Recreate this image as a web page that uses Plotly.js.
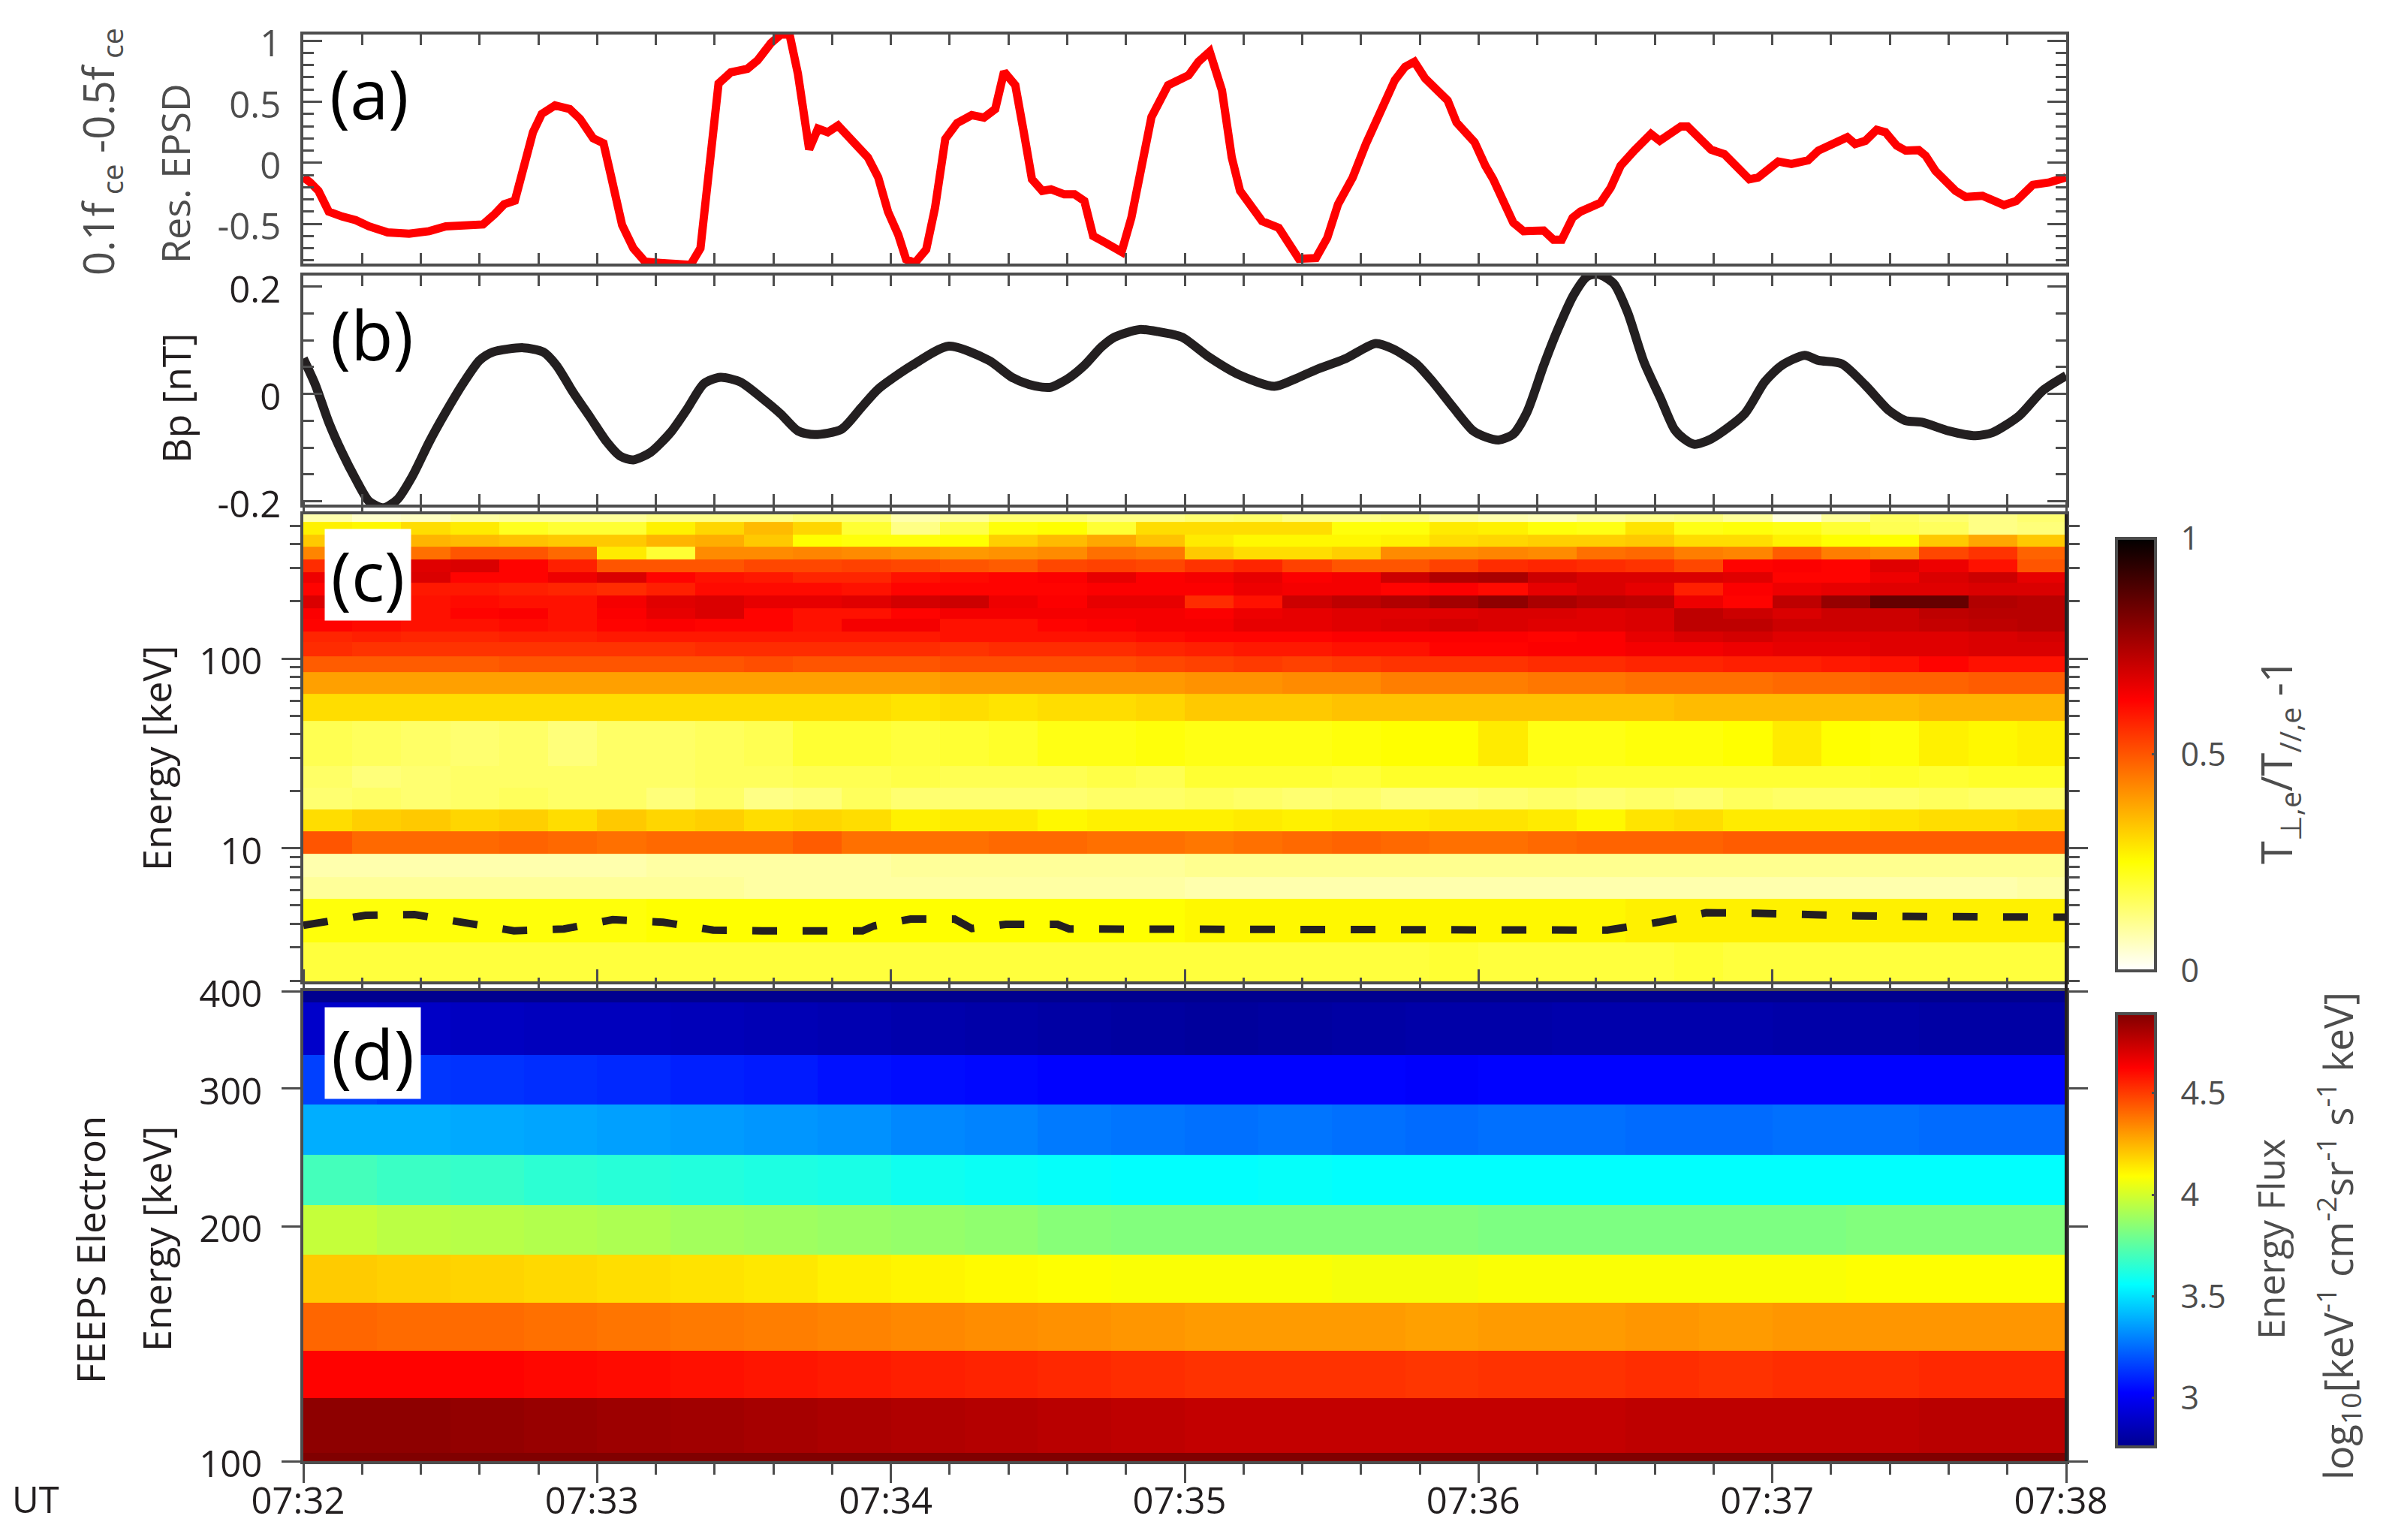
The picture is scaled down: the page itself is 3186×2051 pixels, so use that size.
<!DOCTYPE html>
<html>
<head>
<meta charset="utf-8">
<script src="https://cdn.plot.ly/plotly-3.0.1.min.js"></script>
<style>html,body{margin:0;padding:0;background:#fff}</style>
</head>
<body>
<div id="chart" style="width:3186px;height:2051px"></div>
<script>
// ---------- DATA ----------
const minuteTicks = [0, 60, 120, 180, 240, 300, 360];
const minuteLabels = ['07:32', '07:33', '07:34', '07:35', '07:36', '07:37', '07:38'];

// panel (a): seconds after 07:32, residual EPSD
const epsdTime = [0,1.4,3.1,5.2,7.9,10.7,13.4,17.2,21.6,25.7,29.1,33.2,36.7,39.1,41,43.2,44.9,46.9,48.7,51.4,54.4,56.5,59.2,61.3,62.9,65.1,67.4,69.8,72.9,79.1,81.1,82.5,84.8,87.3,90.7,92.8,95.5,97.5,99.3,101,102.1,103.3,105.1,107.1,109.2,111.2,113.3,115.3,117.4,119.4,121.5,123.1,124.9,127.2,129,131.1,133.5,136.5,139,141.3,143.1,145.4,147.2,148.8,150.9,152.7,155.4,157.5,159.5,161.3,163.6,167.1,169.1,171.2,173.2,176.6,180.8,182.8,185.1,187.6,189.6,191.3,193.8,195.8,199.2,201.3,203.3,206.8,209.1,211.3,214.3,217,220.4,222.9,225,226.9,229.1,231.8,233.7,235.5,239.2,241.4,243,247.1,249.2,253.3,255.3,257,259.2,260.8,264.9,267,269,271.8,275.2,277,281.3,282.7,284.7,287.5,290.2,293,295.3,297.1,301.2,303.9,307.3,309.4,312.1,315.3,316.9,319,321.3,323.1,325.4,327.2,329.9,331.3,333.3,337.4,339.5,342.9,347.3,349.8,353.2,356.6,360];
const epsdValue = [-.12,-.16,-.23,-.4,-.44,-.47,-.52,-.57,-.58,-.56,-.52,-.505,-.505,-.42,-.34,-.31,-.066,.25,.4,.47,.44,.36,.2,.16,-.12,-.51,-.7,-.81,-.82,-.835,-.7,-.2,.65,.74,.77,.84,.98,1.05,1.05,.73,.43,.11,.28,.25,.305,.22,.11,.044,-.12,-.4,-.59,-.79,-.82,-.71,-.37,.195,.325,.39,.37,.44,.745,.635,.235,-.135,-.23,-.217,-.258,-.258,-.313,-.6,-.65,-.73,-.45,-.066,.374,.635,.717,.827,.91,.593,.044,-.23,-.38,-.478,-.533,-.657,-.786,-.78,-.615,-.34,-.12,.154,.456,.676,.786,.827,.69,.593,.51,.33,.168,-.025,-.135,-.49,-.56,-.555,-.63,-.63,-.45,-.4,-.327,-.203,-.025,.1,.236,.18,.297,.297,.22,.107,.07,-.05,-.135,-.12,.01,-.01,.02,.1,.154,.21,.154,.18,.27,.25,.14,.1,.104,.058,-.066,-.23,-.28,-.27,-.346,-.313,-.18,-.16,-.12];

// panel (b): seconds after 07:32, Bp in nT
const bpTime = [0,2.5,5.2,7.9,10.7,13.4,16.4,19.2,22.3,25.7,29.1,32.6,36,38.7,44.9,49,51.7,55.1,58.6,62,64.7,67.4,70.9,75,78.4,81.8,85.2,89.3,93.4,97.5,101,104.4,109.9,114,117.4,124.3,131.8,140,144.7,148.2,150.9,152.7,156.1,159.5,163,165.7,170.8,174.6,179.4,184.9,191,198.3,202.6,206.8,212.9,219,222.5,227.3,230.7,234.8,238.9,241.6,244.1,247.1,249.9,253.3,256,259.4,262.2,264.5,267.6,270.4,273.8,277.2,280,282,284.1,287.5,294.3,298.4,301.9,306.6,309.4,314.2,319,323.8,327.2,330.6,336,341.5,345,350.4,355.2,360];
const bpValue = [.066,.016,-.053,-.109,-.159,-.2,-.2125,-.197,-.153,-.09,-.034,.019,.0625,.078,.086,.078,.053,.003,-.044,-.09,-.116,-.123,-.109,-.072,-.028,.019,.031,.022,-.006,-.0375,-.069,-.076,-.066,-.025,.009,.053,.089,.0625,.031,.0175,.0125,.0125,.028,.053,.0875,.106,.12,.116,.106,.069,.036,.014,.028,.045,.066,.094,.084,.056,.022,-.025,-.069,-.081,-.086,-.075,-.034,.053,.116,.184,.219,.223,.206,.153,.059,-.009,-.066,-.084,-.094,-.084,-.0375,.022,.053,.072,.0625,.056,.016,-.031,-.05,-.053,-.069,-.078,-.072,-.041,.006,.034];

// panel (c): dashed curve, seconds after 07:32, energy in keV
const dashTime = [0,12.7,22.7,32.7,43,53.2,63.2,73.5,83.7,93.7,114.2,116.5,124,133,136.5,143.5,154,156.4,164,174.4,184.5,194.8,205,215.3,225.5,235.8,245.9,256.3,266.3,276.7,286.5,296.6,307,317.4,327.3,337.6,348,360];
const dashEnergy = [3.92,4.43,4.47,4.04,3.67,3.75,4.2,4.07,3.7,3.67,3.67,3.89,4.23,4.23,3.77,3.97,3.97,3.75,3.75,3.75,3.75,3.73,3.73,3.73,3.73,3.7,3.67,3.67,3.7,4.07,4.57,4.54,4.43,4.4,4.365,4.35,4.33,4.33];

// panel (c): anisotropy cells, rows listed from the top of the panel, columns 10 s wide
const timeEdgesC = [0,10,20,30,40,50,60,70,80,90,100,110,120,130,140,150,160,170,180,190,200,210,220,230,240,250,260,270,280,290,300,310,320,330,340,350,360];
const energyEdgesC = [575,523,450.4,387.8,332.7,286.2,250.3,214.7,184,161.5,139.1,121.7,102.4,85.2,65.3,46.95,27.2,20.8,15.96,12.26,9.37,7.05,5.41,3.176,1.987];
const anisotropy = [
[.08,.05,.06,.09,.1,.1,.1,.12,.12,.12,.14,.14,.08,.1,.14,.14,.12,.12,.14,.15,.12,.12,.13,.1,.08,.07,.1,.12,.13,.1,.03,.1,.16,.14,.12,.14],
[.27,.26,.3,.28,.22,.2,.2,.27,.31,.35,.31,.2,.12,.18,.24,.25,.2,.3,.3,.3,.3,.24,.24,.28,.27,.24,.23,.29,.23,.24,.23,.2,.17,.16,.12,.13],
[.33,.33,.36,.35,.34,.33,.33,.36,.37,.33,.25,.24,.24,.25,.32,.35,.38,.34,.28,.26,.26,.26,.27,.3,.31,.32,.32,.33,.3,.3,.27,.25,.25,.33,.38,.33],
[.43,.46,.46,.5,.5,.47,.28,.2,.42,.42,.43,.42,.41,.4,.41,.42,.46,.45,.33,.3,.3,.32,.42,.42,.43,.42,.46,.47,.44,.43,.49,.44,.42,.52,.55,.48],
[.56,.58,.67,.68,.62,.58,.5,.5,.5,.52,.52,.53,.52,.5,.49,.52,.53,.52,.55,.57,.53,.5,.5,.53,.56,.57,.56,.55,.52,.62,.63,.62,.67,.65,.6,.5],
[.65,.66,.68,.62,.62,.65,.68,.62,.6,.59,.57,.57,.6,.61,.62,.63,.66,.63,.64,.66,.63,.64,.7,.74,.75,.7,.68,.68,.68,.67,.62,.62,.65,.68,.7,.66],
[.62,.58,.59,.59,.58,.57,.56,.58,.61,.61,.61,.6,.62,.62,.62,.62,.63,.63,.63,.65,.64,.64,.62,.63,.61,.66,.68,.66,.58,.63,.65,.66,.67,.67,.68,.68],
[.68,.63,.6,.61,.6,.6,.64,.67,.68,.66,.66,.67,.69,.7,.65,.63,.66,.66,.56,.6,.7,.72,.74,.76,.79,.75,.73,.72,.65,.62,.72,.78,.85,.85,.74,.73],
[.63,.63,.6,.62,.63,.6,.63,.66,.68,.62,.6,.6,.62,.64,.64,.64,.64,.64,.63,.65,.66,.67,.67,.67,.68,.68,.67,.68,.72,.7,.68,.7,.7,.72,.73,.73],
[.62,.61,.6,.6,.61,.6,.62,.63,.62,.62,.6,.64,.64,.6,.6,.62,.63,.64,.64,.66,.66,.67,.68,.69,.68,.67,.67,.68,.72,.72,.7,.7,.7,.71,.72,.73],
[.57,.58,.57,.57,.58,.58,.59,.59,.59,.59,.59,.59,.59,.6,.6,.6,.6,.61,.62,.62,.62,.63,.63,.63,.63,.62,.63,.66,.68,.69,.67,.67,.67,.67,.68,.69],
[.56,.55,.55,.55,.55,.55,.55,.55,.56,.56,.56,.56,.56,.55,.56,.56,.56,.57,.58,.59,.59,.6,.6,.62,.62,.63,.63,.64,.64,.65,.66,.66,.67,.67,.68,.68],
[.49,.49,.49,.49,.5,.5,.5,.5,.5,.51,.5,.5,.5,.51,.51,.51,.51,.52,.53,.54,.53,.54,.55,.55,.55,.56,.56,.57,.57,.58,.58,.59,.6,.62,.6,.6],
[.39,.39,.39,.39,.39,.39,.39,.39,.39,.39,.39,.39,.39,.4,.4,.4,.4,.4,.41,.41,.42,.42,.44,.44,.44,.45,.45,.46,.46,.46,.47,.47,.48,.48,.49,.49],
[.3,.3,.3,.3,.3,.3,.3,.3,.3,.3,.3,.3,.29,.3,.29,.3,.3,.31,.33,.33,.33,.34,.34,.34,.34,.34,.34,.34,.35,.35,.35,.35,.35,.36,.36,.36],
[.17,.16,.15,.14,.15,.13,.15,.15,.16,.17,.2,.2,.19,.2,.21,.23,.23,.24,.23,.23,.23,.24,.25,.25,.28,.23,.23,.24,.24,.25,.28,.25,.24,.27,.26,.27],
[.15,.13,.14,.15,.15,.15,.15,.15,.16,.16,.17,.17,.18,.17,.17,.17,.18,.17,.2,.2,.2,.19,.21,.21,.21,.21,.2,.2,.2,.2,.2,.2,.21,.2,.21,.21],
[.14,.15,.14,.15,.16,.15,.15,.13,.15,.12,.13,.16,.14,.14,.14,.14,.15,.15,.16,.15,.14,.15,.13,.13,.14,.15,.14,.15,.14,.16,.15,.15,.15,.16,.15,.15],
[.3,.32,.33,.31,.32,.3,.33,.31,.32,.3,.31,.3,.27,.28,.28,.26,.27,.27,.27,.28,.27,.28,.28,.29,.29,.28,.26,.29,.3,.28,.28,.28,.29,.3,.3,.31],
[.5,.47,.47,.47,.48,.47,.46,.47,.47,.47,.49,.46,.46,.46,.47,.47,.46,.46,.45,.46,.47,.48,.47,.46,.46,.47,.48,.48,.48,.49,.49,.49,.49,.49,.49,.49],
[.08,.08,.08,.08,.08,.08,.08,.09,.09,.09,.09,.09,.1,.1,.1,.1,.1,.1,.11,.11,.11,.11,.11,.11,.11,.11,.11,.11,.11,.11,.11,.11,.11,.11,.11,.11],
[.1,.1,.1,.1,.1,.1,.1,.1,.1,.09,.09,.09,.09,.09,.09,.09,.09,.09,.08,.08,.08,.08,.08,.08,.08,.08,.08,.08,.08,.08,.08,.08,.08,.08,.08,.09],
[.24,.24,.24,.24,.24,.24,.24,.25,.25,.25,.25,.25,.25,.25,.25,.25,.25,.25,.26,.26,.26,.26,.26,.26,.26,.26,.26,.27,.27,.27,.27,.27,.27,.27,.27,.27],
[.19,.19,.19,.19,.19,.19,.19,.19,.19,.19,.19,.19,.19,.19,.19,.19,.19,.19,.19,.19,.19,.19,.19,.2,.19,.19,.19,.19,.2,.19,.19,.19,.19,.19,.19,.19]
];

// panel (d): log10 energy flux cells, rows listed from the top of the panel, columns 15 s wide
const timeEdgesD = [0,15,30,45,60,75,90,105,120,135,150,165,180,195,210,225,240,255,270,285,300,315,330,345,360];
const energyEdgesD = [400,386.8,331.6,286.1,246.9,212.9,183.8,159.6,138.4,120.5,102.5,100];
const energyFlux = [
[2.75,2.75,2.75,2.75,2.75,2.75,2.75,2.75,2.75,2.75,2.75,2.75,2.75,2.75,2.75,2.75,2.75,2.75,2.75,2.75,2.75,2.75,2.75,2.75],
[2.9,2.89,2.88,2.87,2.87,2.86,2.85,2.84,2.83,2.82,2.81,2.8,2.79,2.8,2.81,2.82,2.82,2.83,2.83,2.83,2.82,2.82,2.81,2.81],
[3.16,3.14,3.13,3.12,3.11,3.09,3.08,3.06,3.05,3.04,3.03,3.03,3.03,3.03,3.03,3.02,3.03,3.03,3.03,3.03,3.03,3.03,3.03,3.03],
[3.39,3.39,3.38,3.37,3.36,3.35,3.34,3.33,3.31,3.3,3.28,3.27,3.26,3.27,3.26,3.25,3.26,3.26,3.25,3.25,3.26,3.26,3.25,3.25],
[3.7,3.68,3.67,3.65,3.64,3.63,3.62,3.61,3.59,3.58,3.57,3.56,3.56,3.57,3.56,3.56,3.56,3.56,3.56,3.56,3.56,3.56,3.56,3.56],
[3.97,3.95,3.94,3.93,3.92,3.9,3.89,3.88,3.87,3.86,3.84,3.83,3.83,3.83,3.83,3.83,3.82,3.82,3.82,3.82,3.82,3.83,3.83,3.83],
[4.2,4.19,4.18,4.17,4.16,4.15,4.14,4.12,4.11,4.1,4.09,4.08,4.08,4.08,4.07,4.07,4.08,4.08,4.08,4.08,4.08,4.09,4.09,4.09],
[4.41,4.4,4.4,4.39,4.38,4.37,4.36,4.35,4.34,4.33,4.32,4.31,4.3,4.3,4.3,4.29,4.3,4.3,4.31,4.3,4.31,4.31,4.31,4.31],
[4.62,4.62,4.62,4.61,4.6,4.59,4.58,4.57,4.56,4.55,4.54,4.53,4.52,4.52,4.52,4.51,4.52,4.52,4.53,4.52,4.53,4.53,4.54,4.54],
[4.86,4.86,4.85,4.84,4.83,4.82,4.81,4.8,4.79,4.78,4.77,4.76,4.75,4.75,4.75,4.75,4.75,4.75,4.76,4.76,4.76,4.76,4.77,4.77],
[4.9,4.9,4.9,4.9,4.9,4.9,4.9,4.9,4.9,4.9,4.9,4.9,4.9,4.9,4.9,4.9,4.9,4.9,4.9,4.9,4.9,4.9,4.9,4.9]
];

// ---------- STYLE / LAYOUT ----------
const FONT = '"Open Sans", "Noto Sans", sans-serif';
const GREY = '#4d4d4d', INK = '#231f20';
const W = 3186, H = 2051, L = 404, R = 2752, T = 46, B = 1946;
const px = x => (x - L) / (R - L);
const py = y => (B - y) / (B - T);

const hotRev = [[0,'#ffffff'],[.25,'#ffff00'],[.625,'#ff0000'],[1,'#000000']];
const jet = [[0,'#00008f'],[.125,'#0000ff'],[.375,'#00ffff'],[.625,'#ffff00'],[.875,'#ff0000'],[1,'#800000']];

function xAxis(anchor, dir, labels) {
  return {
    anchor, range: [0, 360], tickmode: 'array', tickvals: minuteTicks,
    ticktext: labels ? minuteLabels : minuteTicks.map(() => ''),
    showticklabels: !!labels, ticks: dir, ticklen: 25, tickwidth: 3, tickcolor: GREY,
    minor: { dtick: 12, tick0: 0, ticks: dir, ticklen: 14, tickwidth: 3, tickcolor: GREY },
    showline: true, linecolor: GREY, linewidth: 4, mirror: 'ticks', showgrid: false, zeroline: false,
    ticklabelstandoff: labels ? -18 : 0, ticklabelshift: labels ? -7 : 0,
    tickfont: { family: FONT, size: 49, color: INK }
  };
}
function yAxis(anchor, top, bottom, opts, color) {
  return Object.assign({
    anchor, domain: [py(bottom), py(top)], showgrid: false, zeroline: false,
    showline: true, linecolor: GREY, linewidth: 4, mirror: 'ticks',
    tickwidth: 3, tickcolor: GREY, ticklen: 25, ticklabelstandoff: 16, ticklabelshift: 4,
    tickfont: { family: FONT, size: 49, color }
  }, opts);
}
function colorbar(centre, len, tickvals, ticktext) {
  return {
    x: px(2819), xanchor: 'left', xpad: 0, ypad: 0,
    y: py(centre), yanchor: 'middle', lenmode: 'pixels', len, thicknessmode: 'pixels', thickness: 52,
    outlinecolor: GREY, outlinewidth: 4, ticks: 'inside', ticklen: 7, tickwidth: 3, tickcolor: GREY,
    tickmode: 'array', tickvals, ticktext: ticktext.map(t => '\u00a0\u00a0' + t),
    tickfont: { family: FONT, size: 43, color: GREY }
  };
}

const traces = [
  { type: 'scatter', mode: 'lines', x: epsdTime, y: epsdValue, xaxis: 'x', yaxis: 'y', cliponaxis: false,
    line: { color: '#ff0000', width: 11 }, showlegend: false },
  { type: 'scatter', mode: 'lines', x: bpTime, y: bpValue, xaxis: 'x2', yaxis: 'y2', cliponaxis: false,
    line: { color: INK, width: 12, shape: 'spline', smoothing: 0.7 }, showlegend: false },
  { type: 'heatmap', x: timeEdgesC, y: energyEdgesC.slice().reverse(), z: anisotropy.slice().reverse(),
    xaxis: 'x3', yaxis: 'y3', colorscale: hotRev, zmin: 0, zmax: 1, zsmooth: false,
    colorbar: colorbar(1004.5, 576, [0, .5, 1], ['0', '0.5', '1']) },
  { type: 'scatter', mode: 'lines', x: dashTime, y: dashEnergy, xaxis: 'x3', yaxis: 'y3',
    line: { color: INK, width: 10, dash: '33px,34px' }, showlegend: false },
  { type: 'heatmap', x: timeEdgesD, y: energyEdgesD.slice().reverse(), z: energyFlux.slice().reverse(),
    xaxis: 'x4', yaxis: 'y4', colorscale: jet, zmin: 2.76, zmax: 4.89, zsmooth: false,
    colorbar: colorbar(1638.5, 577, [3, 3.5, 4, 4.5], ['3', '3.5', '4', '4.5']) }
];

function note(text, x, y, size, color, extra) {
  return Object.assign({ text, xref: 'paper', yref: 'paper', x: px(x), y: py(y), xanchor: 'center', yanchor: 'middle',
    showarrow: false, font: { family: FONT, size, color } }, extra || {});
}
const V = { textangle: -90 };
const annotations = [
  note('(a)', 491, 124, 92, '#000'),
  note('(b)', 495, 445, 92, '#000'),
  note('(c)', 490, 766, 92, '#000', { bgcolor: '#fff', width: 114, height: 121, borderpad: 0 }),
  note('(d)', 496, 1403, 92, '#000', { bgcolor: '#fff', width: 127, height: 121, borderpad: 0 }),
  note('0.1f<sub> ce</sub>\u00a0-0.5f<sub> ce</sub>', 133, 202, 56, GREY, V),
  note('Res. EPSD', 233, 231, 52, GREY, V),
  note('Bp [nT]', 233, 531, 52, INK, V),
  note('Energy [keV]', 207, 1010, 52, INK, V),
  note('Energy [keV]', 207, 1650, 52, INK, V),
  note('FEEPS Electron', 119, 1665, 52, INK, V),
  note('UT', 47, 1996, 49, INK),
  note('T<sub>\u22a5,e</sub>/T<sub>//,e</sub> -1', 3034, 1014, 56, GREY, V),
  note('Energy Flux', 3024, 1651, 50, GREY, V),
  note('log<sub>10</sub>[keV<sup>-1</sup> cm<sup>-2</sup>sr<sup>-1</sup> s<sup>-1</sup> keV]', 3114, 1646, 53, GREY, V)
];

const layout = {
  width: W, height: H, paper_bgcolor: '#fff', plot_bgcolor: '#fff', showlegend: false,
  margin: { l: L, r: W - R, t: T, b: H - B, pad: 0, autoexpand: false },
  xaxis: xAxis('y', 'inside', false),
  xaxis2: xAxis('y2', 'inside', false),
  xaxis3: xAxis('y3', 'outside', false),
  xaxis4: xAxis('y4', 'outside', true),
  yaxis: yAxis('x', 46, 351, { range: [-.825, 1.05], ticks: 'inside', tickmode: 'array', tickvals: [-.5, 0, .5, 1],
    ticktext: ['-0.5', '0', '0.5', '1'], minor: { dtick: .1, tick0: 0, ticks: 'inside', ticklen: 14, tickwidth: 3, tickcolor: GREY } }, GREY),
  yaxis2: yAxis('x2', 367, 672, { range: [-.2064, .2206], ticks: 'inside', tickmode: 'array', tickvals: [-.2, 0, .2],
    ticktext: ['-0.2', '0', '0.2'], minor: { dtick: .05, tick0: 0, ticks: 'inside', ticklen: 14, tickwidth: 3, tickcolor: GREY } }, INK),
  yaxis3: yAxis('x3', 685, 1307, { type: 'log', range: [.298, 2.76], ticks: 'outside', tickmode: 'array', tickvals: [10, 100], ticktext: ['10', '100'],
    minor: { tickmode: 'array', tickvals: [2,3,4,5,6,7,8,9,20,30,40,50,60,70,80,90,200,300,400,500], ticks: 'outside', ticklen: 14, tickwidth: 3, tickcolor: GREY } }, INK),
  yaxis4: yAxis('x4', 1320, 1946, { type: 'log', range: [2, Math.log10(400)], ticks: 'outside', tickmode: 'array', tickvals: [100, 200, 300, 400], ticktext: ['100', '200', '300', '400'] }, INK),
  shapes: [{ type: 'line', xref: 'paper', yref: 'paper', x0: 1, x1: 1, y0: 0, y1: py(685), line: { color: INK, width: 4 } }],
  annotations
};

Plotly.newPlot('chart', traces, layout, { staticPlot: true, displayModeBar: false });
</script>
</body>
</html>
